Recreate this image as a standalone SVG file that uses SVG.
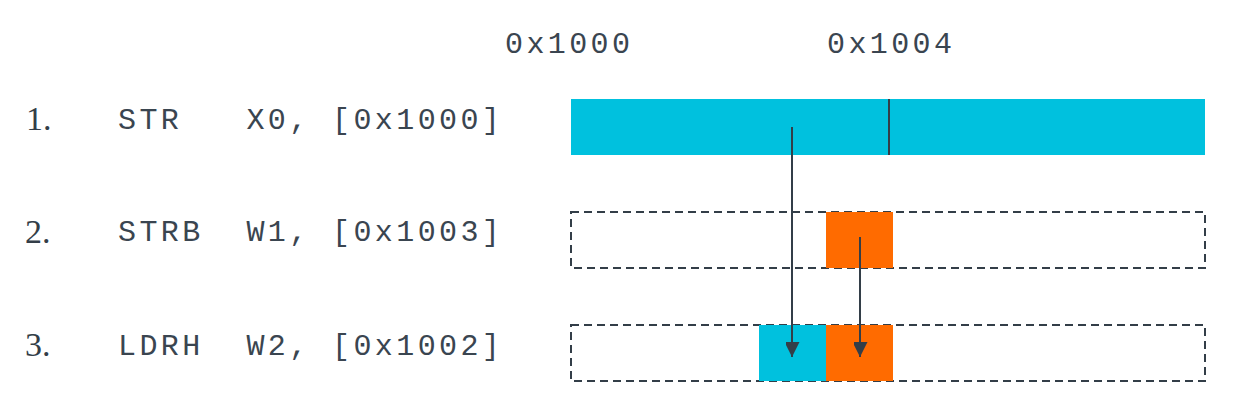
<svg xmlns="http://www.w3.org/2000/svg" width="1236" height="414" viewBox="0 0 1236 414">
<style>
.mono{font-family:"Liberation Mono","DejaVu Sans Mono",monospace;font-size:30px;letter-spacing:3.4px;fill:#3a4550}
.num{font-family:"Liberation Serif","Times New Roman",serif;font-size:34px;fill:#333e48}
.dash{fill:none;stroke:#333e48;stroke-width:2;stroke-dasharray:8 5}
.cyan{fill:#00c1de}
.orange{fill:#ff6b00}
.conn{stroke:#333e48;stroke-width:2;fill:none}
</style>
<defs>
<marker id="arrow" markerUnits="userSpaceOnUse" markerWidth="16" markerHeight="14" refX="15" refY="7.5" orient="auto">
<path d="M0,0 L15,7.5 L0,15 Z" fill="#333e48"/>
</marker>
</defs>
<rect width="1236" height="414" fill="#ffffff"/>
<g id="header">
<text class="mono" x="505" y="53">0x1000</text>
<text class="mono" x="827" y="53">0x1004</text>
</g>
<g id="row1">
<text class="num" x="26" y="130">1.</text>
<text class="mono" x="118" y="129" xml:space="preserve">STR   X0, [0x1000]</text>
<rect class="cyan" x="571" y="99" width="634" height="56"/>
<line x1="889" y1="99" x2="889" y2="155" stroke="#333e48" stroke-width="2"/>
</g>
<g id="row2">
<text class="num" x="25" y="243">2.</text>
<text class="mono" x="118" y="241" xml:space="preserve">STRB  W1, [0x1003]</text>
<rect class="dash" x="571" y="212" width="634" height="56"/>
<rect class="orange" x="826" y="212" width="67" height="56"/>
</g>
<g id="row3">
<text class="num" x="25" y="356">3.</text>
<text class="mono" x="118" y="355" xml:space="preserve">LDRH  W2, [0x1002]</text>
<rect class="dash" x="571" y="325" width="634" height="56"/>
<rect class="cyan" x="759" y="325" width="67" height="56"/>
<rect class="orange" x="826" y="325" width="67" height="56"/>
</g>
<g id="connectors">
<line class="conn" x1="792" y1="127" x2="792" y2="357" marker-end="url(#arrow)"/>
<line class="conn" x1="860" y1="237" x2="860" y2="357" marker-end="url(#arrow)"/>
</g>
</svg>
